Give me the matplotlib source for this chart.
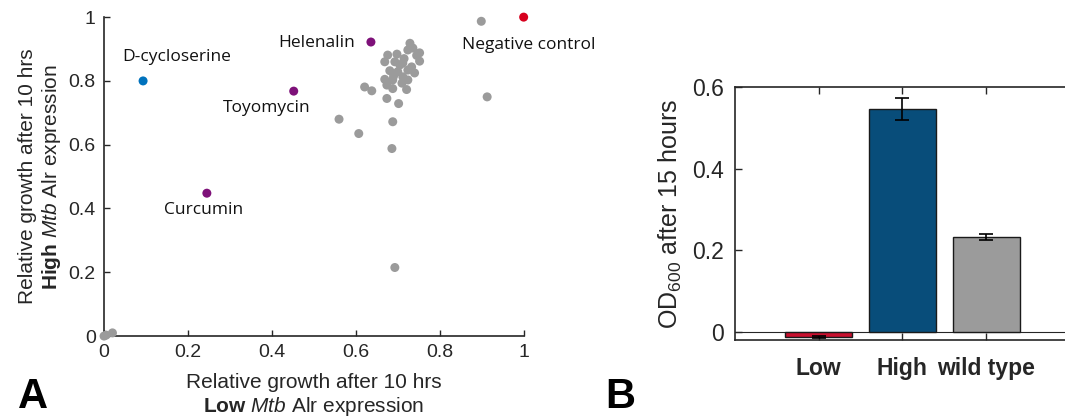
"""Two-panel figure: compound screen scatter (A) and OD600 bar chart (B)."""
import numpy as np
import matplotlib.pyplot as plt

plt.rcParams["font.family"] = ["Liberation Sans", "DejaVu Sans"]
plt.rcParams["mathtext.fontset"] = "custom"
plt.rcParams["mathtext.rm"] = "Liberation Sans"
plt.rcParams["mathtext.it"] = "Liberation Sans:italic"
plt.rcParams["mathtext.bf"] = "Liberation Sans:bold"

# --- panel A data: relative growth, low vs high Alr expression ---
gray_low = [0.729, 0.752, 0.676, 0.698, 0.724, 0.736, 0.669, 0.752, 0.693,
            0.712, 0.733, 0.681, 0.700, 0.724, 0.740, 0.712, 0.669, 0.688,
            0.724, 0.674, 0.710, 0.621, 0.638, 0.688, 0.721, 0.674, 0.702,
            0.560, 0.607, 0.688, 0.686, 0.693, 0.0, 0.02, 0.005, 0.899, 0.913,
            0.705, 0.690, 0.715, 0.745]
gray_high = [0.918, 0.888, 0.881, 0.884, 0.897, 0.903, 0.860, 0.862, 0.860,
             0.856, 0.844, 0.832, 0.829, 0.834, 0.825, 0.813, 0.805, 0.803,
             0.803, 0.787, 0.793, 0.781, 0.769, 0.776, 0.773, 0.745, 0.729,
             0.680, 0.635, 0.672, 0.588, 0.215, 0.0, 0.01, 0.003, 0.987, 0.750,
             0.850, 0.815, 0.870, 0.880]

named = ["D-cycloserine", "Curcumin", "Toyomycin", "Helenalin", "Negative control"]
named_low = [0.093, 0.245, 0.452, 0.636, 1.0]
named_high = [0.80, 0.448, 0.768, 0.922, 1.0]
named_colors = ["#0072bd", "#7e1179", "#7e1179", "#7e1179", "#d7001e"]
label_pos = [(0.174, 0.875), (0.238, 0.395), (0.388, 0.715), (0.507, 0.918),
             (1.012, 0.912)]

# --- panel B data: OD600 after 15 hours ---
strains = ["Low", "High", "wild type"]
od600 = [-0.012, 0.547, 0.233]
od_err = [0.003, 0.027, 0.008]
bar_colors = ["#c8102e", "#084d7a", "#9b9b9b"]

fig = plt.figure(figsize=(10.65, 4.18), dpi=100)

# panel A
ax = fig.add_axes([0.0977, 0.196, 0.394, 0.763])
ax.scatter(gray_low, gray_high, s=42, color="#9b9b9b", edgecolor="none",
           clip_on=False, zorder=3)
ax.scatter(named_low, named_high, s=42, color=named_colors, edgecolor="none",
           clip_on=False, zorder=4)
for name, (tx, ty) in zip(named, label_pos):
    ax.text(tx, ty, name, ha="center", va="center", fontsize=12.5,
            family=["Open Sans", "DejaVu Sans"], color="#111111")
ax.set_xlim(0, 1)
ax.set_ylim(0, 1)
ax.set_xticks([0, 0.2, 0.4, 0.6, 0.8, 1])
ax.set_xticklabels(["0", "0.2", "0.4", "0.6", "0.8", "1"])
ax.set_yticks([0, 0.2, 0.4, 0.6, 0.8, 1])
ax.set_yticklabels(["0", "0.2", "0.4", "0.6", "0.8", "1"])
for s in ["top", "right"]:
    ax.spines[s].set_visible(False)
for s in ["left", "bottom"]:
    ax.spines[s].set_color("#262626")
    ax.spines[s].set_linewidth(1.2)
ax.tick_params(direction="in", length=4, width=1, labelsize=14,
               colors="#262626", pad=6)
ax.set_xlabel("Relative growth after 10 hrs\n"
              r"$\bf{Low}$ $\it{Mtb}$ Alr expression",
              fontsize=15, color="#262626", labelpad=8, linespacing=1.2)
ax.set_ylabel("Relative growth after 10 hrs\n"
              r"$\bf{High}$ $\it{Mtb}$ Alr expression",
              fontsize=15, color="#262626", labelpad=4, linespacing=1.2)

# panel B
bx = fig.add_axes([0.690, 0.1866, 0.3146, 0.605])
x = np.arange(1, len(strains) + 1)
bx.bar(x, od600, width=0.8, color=bar_colors, edgecolor="#1a1a1a",
       linewidth=1, zorder=2)
bx.errorbar(x, od600, yerr=od_err, fmt="none", ecolor="black", capsize=5,
            elinewidth=1.2, capthick=1.2, zorder=3)
bx.axhline(0, color="#262626", linewidth=0.8, zorder=1)
bx.set_xlim(0, 4)
bx.set_ylim(-0.0196, 0.6)
bx.set_xticks(x)
bx.set_xticklabels(strains, fontweight="bold")
bx.set_yticks([0, 0.2, 0.4, 0.6])
bx.set_yticklabels(["0", "0.2", "0.4", "0.6"])
for s in bx.spines.values():
    s.set_color("#262626")
    s.set_linewidth(1.2)
bx.tick_params(direction="in", length=5, width=1, labelsize=16.5,
               colors="#262626", top=True, right=False, pad=8)
bx.tick_params(axis="x", pad=12)
bx.set_ylabel(r"OD$_{600}$ after 15 hours", fontsize=18, color="#262626",
              labelpad=6)

fig.text(0.017, 0.003, "A", fontsize=30, fontweight="bold", va="bottom")
fig.text(0.568, 0.003, "B", fontsize=30, fontweight="bold", va="bottom")

fig.savefig("out.png", dpi=100)
